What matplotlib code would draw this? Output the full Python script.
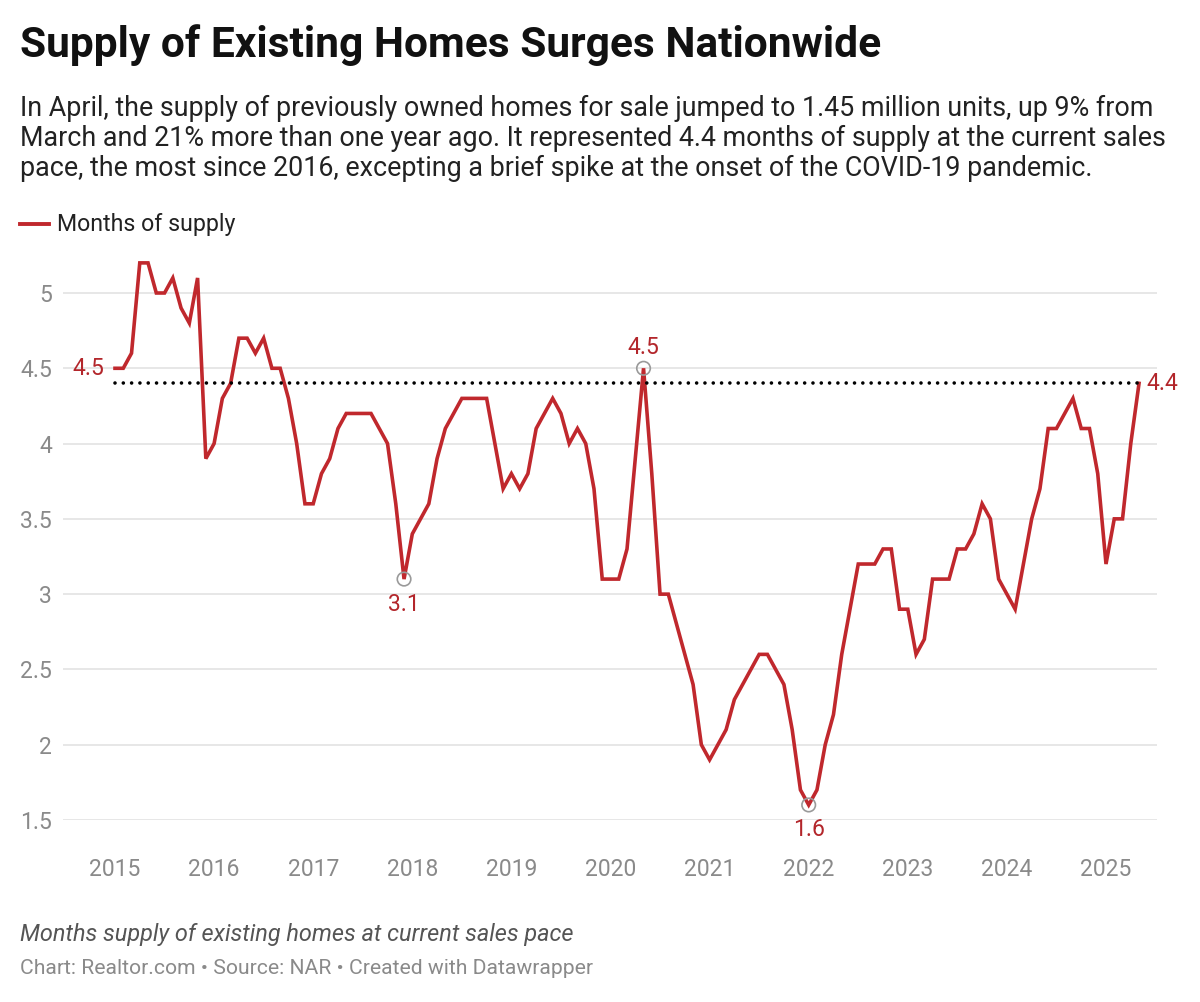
import matplotlib
matplotlib.use("Agg")
import matplotlib.pyplot as plt
import numpy as np

# ---------------- data ----------------
start_year = 2015
supply = [
    4.5, 4.5, 4.6, 5.2, 5.2, 5.0, 5.0, 5.1, 4.9, 4.8, 5.1, 3.9,
    4.0, 4.3, 4.4, 4.7, 4.7, 4.6, 4.7, 4.5, 4.5, 4.3, 4.0, 3.6,
    3.6, 3.8, 3.9, 4.1, 4.2, 4.2, 4.2, 4.2, 4.1, 4.0, 3.6, 3.1,
    3.4, 3.5, 3.6, 3.9, 4.1, 4.2, 4.3, 4.3, 4.3, 4.3, 4.0, 3.7,
    3.8, 3.7, 3.8, 4.1, 4.2, 4.3, 4.2, 4.0, 4.1, 4.0, 3.7, 3.1,
    3.1, 3.1, 3.3, 3.9, 4.5, 3.8, 3.0, 3.0, 2.8, 2.6, 2.4, 2.0,
    1.9, 2.0, 2.1, 2.3, 2.4, 2.5, 2.6, 2.6, 2.5, 2.4, 2.1, 1.7,
    1.6, 1.7, 2.0, 2.2, 2.6, 2.9, 3.2, 3.2, 3.2, 3.3, 3.3, 2.9,
    2.9, 2.6, 2.7, 3.1, 3.1, 3.1, 3.3, 3.3, 3.4, 3.6, 3.5, 3.1,
    3.0, 2.9, 3.2, 3.5, 3.7, 4.1, 4.1, 4.2, 4.3, 4.1, 4.1, 3.8,
    3.2, 3.5, 3.5, 4.0, 4.4,
]
reference_level = 4.4
highlight_idx = [35, 64, 84]          # points with circle + value label
highlight_pos = ["below", "above", "below"]
year_ticks = list(range(2015, 2026))
y_ticks = [1.5, 2, 2.5, 3, 3.5, 4, 4.5, 5]
y_tick_labels = ["1.5", "2", "2.5", "3", "3.5", "4", "4.5", "5"]

title = "Supply of Existing Homes Surges Nationwide"
subtitle = [
    "In April, the supply of previously owned homes for sale jumped to 1.45 million units, up 9% from",
    "March and 21% more than one year ago. It represented 4.4 months of supply at the current sales",
    "pace, the most since 2016, excepting a brief spike at the onset of the COVID-19 pandemic.",
]
legend_label = "Months of supply"
note = "Months supply of existing homes at current sales pace"
source = "Chart: Realtor.com \u2022 Source: NAR \u2022 Created with Datawrapper"

# ---------------- style ----------------
plt.rcParams['font.family'] = ['Roboto', 'DejaVu Sans']
RED = '#c0282d'
LABEL_RED = '#b3262b'
GREY_TICK = '#8a8a8a'
GRID = '#e3e3e3'

W, H = 1200, 1002
fig = plt.figure(figsize=(W / 100, H / 100), dpi=100)

def fx(px):
    return px / W

def fy(py):
    return 1 - py / H

# axes placement (pixels): x 63..1157, y for 5.3 .. 1.5
y_lo, y_hi = 1.5, 5.3
ppu = (820 - 293) / 3.5
top_px = 820 - (y_hi - y_lo) * ppu
ax = fig.add_axes([fx(63), fy(820), fx(1157) - fx(63), (820 - top_px) / H])

ppy = (1106 - 115) / 10.0
x_lo = 2015 - (115 - 63) / ppy
x_hi = 2025 + (1157 - 1106) / ppy
ax.set_xlim(x_lo, x_hi)
ax.set_ylim(y_lo, y_hi)

x = np.array([start_year + i / 12.0 for i in range(len(supply))])
y = np.array(supply)

for t in y_ticks:
    ax.axhline(t, color=GRID, lw=1.2, zorder=1)

ax.plot(x, y, color=RED, lw=2.6, solid_joinstyle='miter', zorder=3)
ax.plot([x[0], x[-1]], [reference_level, reference_level], color='black', lw=2.6,
        linestyle=(0, (0.001, 2.3)), dash_capstyle='round', zorder=4)

LBL = 16.5
for idx, pos in zip(highlight_idx, highlight_pos):
    ax.scatter([x[idx]], [y[idx]], s=95, facecolors='none', edgecolors='#9a9a9a',
               linewidths=1.2, zorder=5)
    off = -25 if pos == "below" else 21
    ax.annotate(f"{y[idx]:g}", (x[idx], y[idx]), xytext=(0, off * 0.72),
                textcoords='offset points', ha='center', va='center',
                fontsize=LBL, color=LABEL_RED, zorder=6)

ax.annotate(f"{y[0]:g}", (x[0], y[0]), xytext=(-7.5, 0), textcoords='offset points',
            ha='right', va='center', fontsize=LBL, color=LABEL_RED)
ax.annotate(f"{y[-1]:g}", (x[-1], y[-1]), xytext=(5, 0), textcoords='offset points',
            ha='left', va='center', fontsize=LBL, color=LABEL_RED)

ax.set_xticks(year_ticks)
ax.set_xticklabels([str(v) for v in year_ticks])
ax.set_yticks(y_ticks)
ax.set_yticklabels(y_tick_labels)
ax.tick_params(axis='both', length=0, labelsize=16.5, labelcolor=GREY_TICK)
ax.tick_params(axis='x', pad=27)
ax.tick_params(axis='y', pad=8)
for s in ax.spines.values():
    s.set_visible(False)
ax.set_facecolor('none')

# ---------------- texts ----------------
fig.text(fx(20), fy(45), title, fontsize=30.6, fontweight='bold', color='#111111',
         ha='left', va='center')
for i, line in enumerate(subtitle):
    fig.text(fx(20), fy(108 + 30 * i), line, fontsize=19.4, color='#222222',
             ha='left', va='center')

fig.add_artist(plt.Line2D([fx(20), fx(49)], [fy(224), fy(224)], color=RED, lw=2.8))
fig.text(fx(57), fy(224), legend_label, fontsize=16.7, color='#222222', ha='left', va='center')

fig.text(fx(20), fy(935), note, fontsize=16.9, style='italic', color='#555555',
         ha='left', va='center')
fig.text(fx(20), fy(969), source, fontsize=15.2, color='#8a8a8a', ha='left', va='center')

fig.savefig('out.png', dpi=100, facecolor='white')
